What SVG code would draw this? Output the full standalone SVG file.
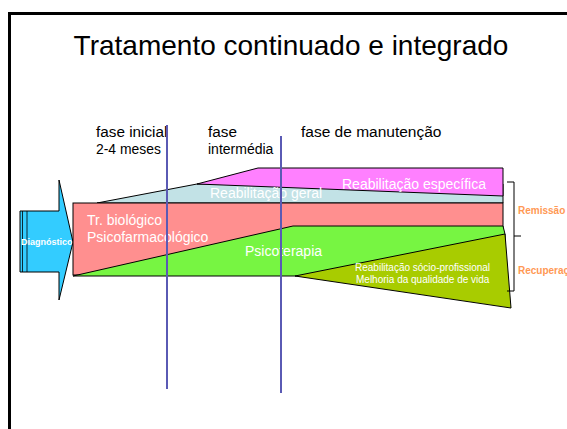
<svg xmlns="http://www.w3.org/2000/svg" width="567" height="429" viewBox="0 0 567 429">
<style>
.t{font-family:"Liberation Sans",Arial,sans-serif;}
.w{fill:#ffffff;}
.blk{fill:#000000;}
.shape{stroke:#000000;stroke-width:1;}
.vl{stroke:#5a5ab4;stroke-width:2;}
.or{fill:#ff9955;font-weight:bold;font-size:10px;}
</style>
<rect x="0" y="0" width="567" height="429" fill="#ffffff"/>
<path d="M9.5 430 V13.5 H568" fill="none" stroke="#000" stroke-width="3"/>
<text class="t blk" x="291" y="55" font-size="28" text-anchor="middle">Tratamento continuado e integrado</text>
<g id="phases">
<text class="t blk" x="96" y="137" font-size="15.3">fase inicial</text>
<text class="t blk" x="96" y="154" font-size="13.9">2-4 meses</text>
<text class="t blk" x="208" y="137" font-size="15.3">fase</text>
<text class="t blk" x="208" y="154" font-size="14">intermédia</text>
<text class="t blk" x="301" y="137" font-size="15.5">fase de manutenção</text>
</g>
<g id="diagnostico">
<path class="shape" d="M20 211 H59 V180 L73 242 L59 300 V272 H20 Z" fill="#33ccff" stroke-width="0.8"/>
<line x1="22.5" y1="211" x2="22.5" y2="272" stroke="#000" stroke-width="0.8"/>
<line x1="27" y1="211" x2="27" y2="272" stroke="#000" stroke-width="0.8"/>
<text class="t w" x="21" y="245" font-size="9" font-weight="bold">Diagnóstico</text>
</g>
<g id="reab-geral">
<polygon class="shape" points="97,203 197,184 503,184 503,203" fill="#c2e2e6"/>
</g>
<g id="reab-especifica">
<polygon class="shape" points="197,184 258,168 503,168 503,196" fill="#ff80ff"/>
<text class="t w" x="342" y="189" font-size="14">Reabilitação específica</text>
</g>
<g id="tr-biologico">
<rect class="shape" x="73" y="203" width="430" height="72" fill="#ff8f8f"/>
</g>
<g id="psicoterapia">
<polygon class="shape" points="73,276 293,226 503,226 505,234 505,276" fill="#77f542"/>
</g>
<text class="t w" x="210" y="198" font-size="14">Reabilitação geral</text>
<text class="t w" x="87" y="225" font-size="14">Tr. biológico</text>
<text class="t w" x="87" y="242" font-size="14">Psicofarmacológico</text>
<text class="t w" x="245" y="256" font-size="14">Psicoterapia</text>
<g id="reab-socio">
<polygon class="shape" points="295,276 505,234 511,308" fill="#a8cc00"/>
<text class="t w" x="355" y="271" font-size="10">Reabilitação sócio-profissional</text>
<text class="t w" x="356" y="283" font-size="10">Melhoria da qualidade de vida</text>
</g>
<g id="connectors">
<line class="vl" x1="167" y1="125" x2="167" y2="389"/>
<line class="vl" x1="281" y1="136" x2="281" y2="393"/>
<path d="M507 182 H514 V236 H521 M514 236 V291 H507" fill="none" stroke="#000" stroke-width="1"/>
</g>
<text class="t or" x="518" y="214">Remissão</text>
<text class="t or" x="518" y="274">Recuperação</text>
</svg>
